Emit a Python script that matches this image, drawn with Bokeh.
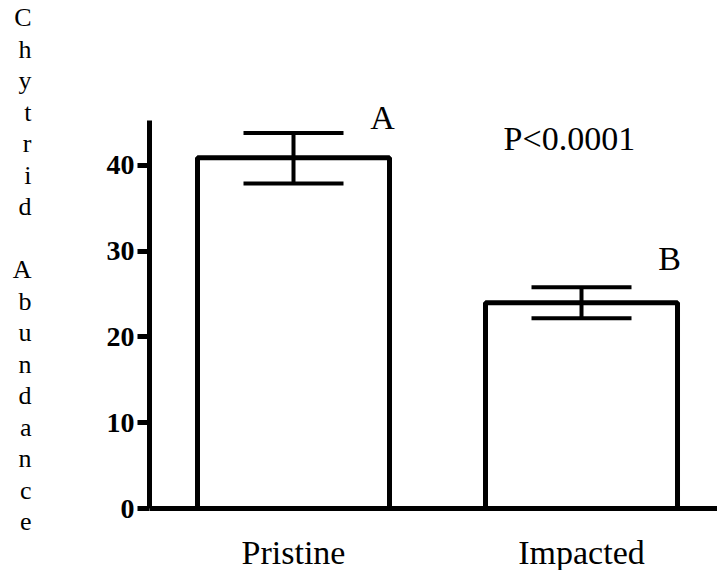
from bokeh.plotting import figure
from bokeh.models import Range1d, Span, Label, FixedTicker
from bokeh.embed import file_html
from bokeh.resources import INLINE

categories = ["Pristine", "Impacted"]
means = [40.9, 24.0]
upper = [43.8, 25.8]
lower = [37.9, 22.2]
group_letters = ["A", "B"]
y_ticks = [0, 10, 20, 30, 40]
p_text = "P<0.0001"
y_title = "Chytrid Abundance"

FONT = "Liberation Serif"
xs = [i + 0.5 for i in range(len(categories))]

p = figure(width=717, height=570, output_backend="svg", toolbar_location=None,
           x_range=Range1d(0, 1.9722), y_range=Range1d(-7.23, 59.24),
           x_axis_location=None, min_border_left=149, min_border_right=0,
           min_border_top=0, min_border_bottom=0)
p.outline_line_color = None
p.grid.visible = False
p.background_fill_color = "white"

ya = p.yaxis[0]
ya.bounds = (0, 45.25)
ya.ticker = FixedTicker(ticks=y_ticks)
ya.minor_tick_line_color = None
ya.axis_line_width = 5
ya.major_tick_line_width = 5
ya.major_tick_out = 12
ya.major_tick_in = 0
ya.major_label_standoff = 3
ya.major_label_text_font = FONT
ya.major_label_text_font_style = "bold"
ya.major_label_text_font_size = "28px"
ya.major_label_text_color = "black"

stacked = "\n".join(ch if ch != " " else "" for ch in y_title) + "\n"
ya.axis_label = stacked
ya.axis_label_orientation = "horizontal"
ya.axis_label_text_font = FONT
ya.axis_label_text_font_style = "normal"
ya.axis_label_text_font_size = "26px"
ya.axis_label_text_line_height = 1.087
ya.axis_label_text_color = "black"
ya.axis_label_standoff = 72

p.add_layout(Span(location=0, dimension="width", line_color="black", line_width=5))

p.vbar(x=xs, top=means, bottom=0, width=192 / 288, fill_color="white",
       line_color="black", line_width=5)

half = 50 / 288
p.segment(x0=xs, y0=lower, x1=xs, y1=upper, line_color="black", line_width=4)
p.segment(x0=[x - half for x in xs], y0=upper, x1=[x + half for x in xs], y1=upper,
          line_color="black", line_width=4)
p.segment(x0=[x - half for x in xs], y0=lower, x1=[x + half for x in xs], y1=lower,
          line_color="black", line_width=4)

for cx, cat in zip(xs, categories):
    p.add_layout(Label(x=cx, y=0, y_offset=-44, text=cat, text_align="center",
                       text_baseline="middle", text_font=FONT, text_font_size="34px",
                       text_color="black"))

letter_pos = [(0.809, 45.6), (1.806, 29.15)]
for t, (lx, ly) in zip(group_letters, letter_pos):
    p.add_layout(Label(x=lx, y=ly, text=t, text_align="center", text_baseline="middle",
                       text_font=FONT, text_font_size="34px", text_color="black"))

p.add_layout(Label(x=1.458, y=43.15, text=p_text, text_align="center", text_baseline="middle",
                   text_font=FONT, text_font_size="34px", text_color="black"))

open("out.html", "w").write(file_html(p, INLINE))
